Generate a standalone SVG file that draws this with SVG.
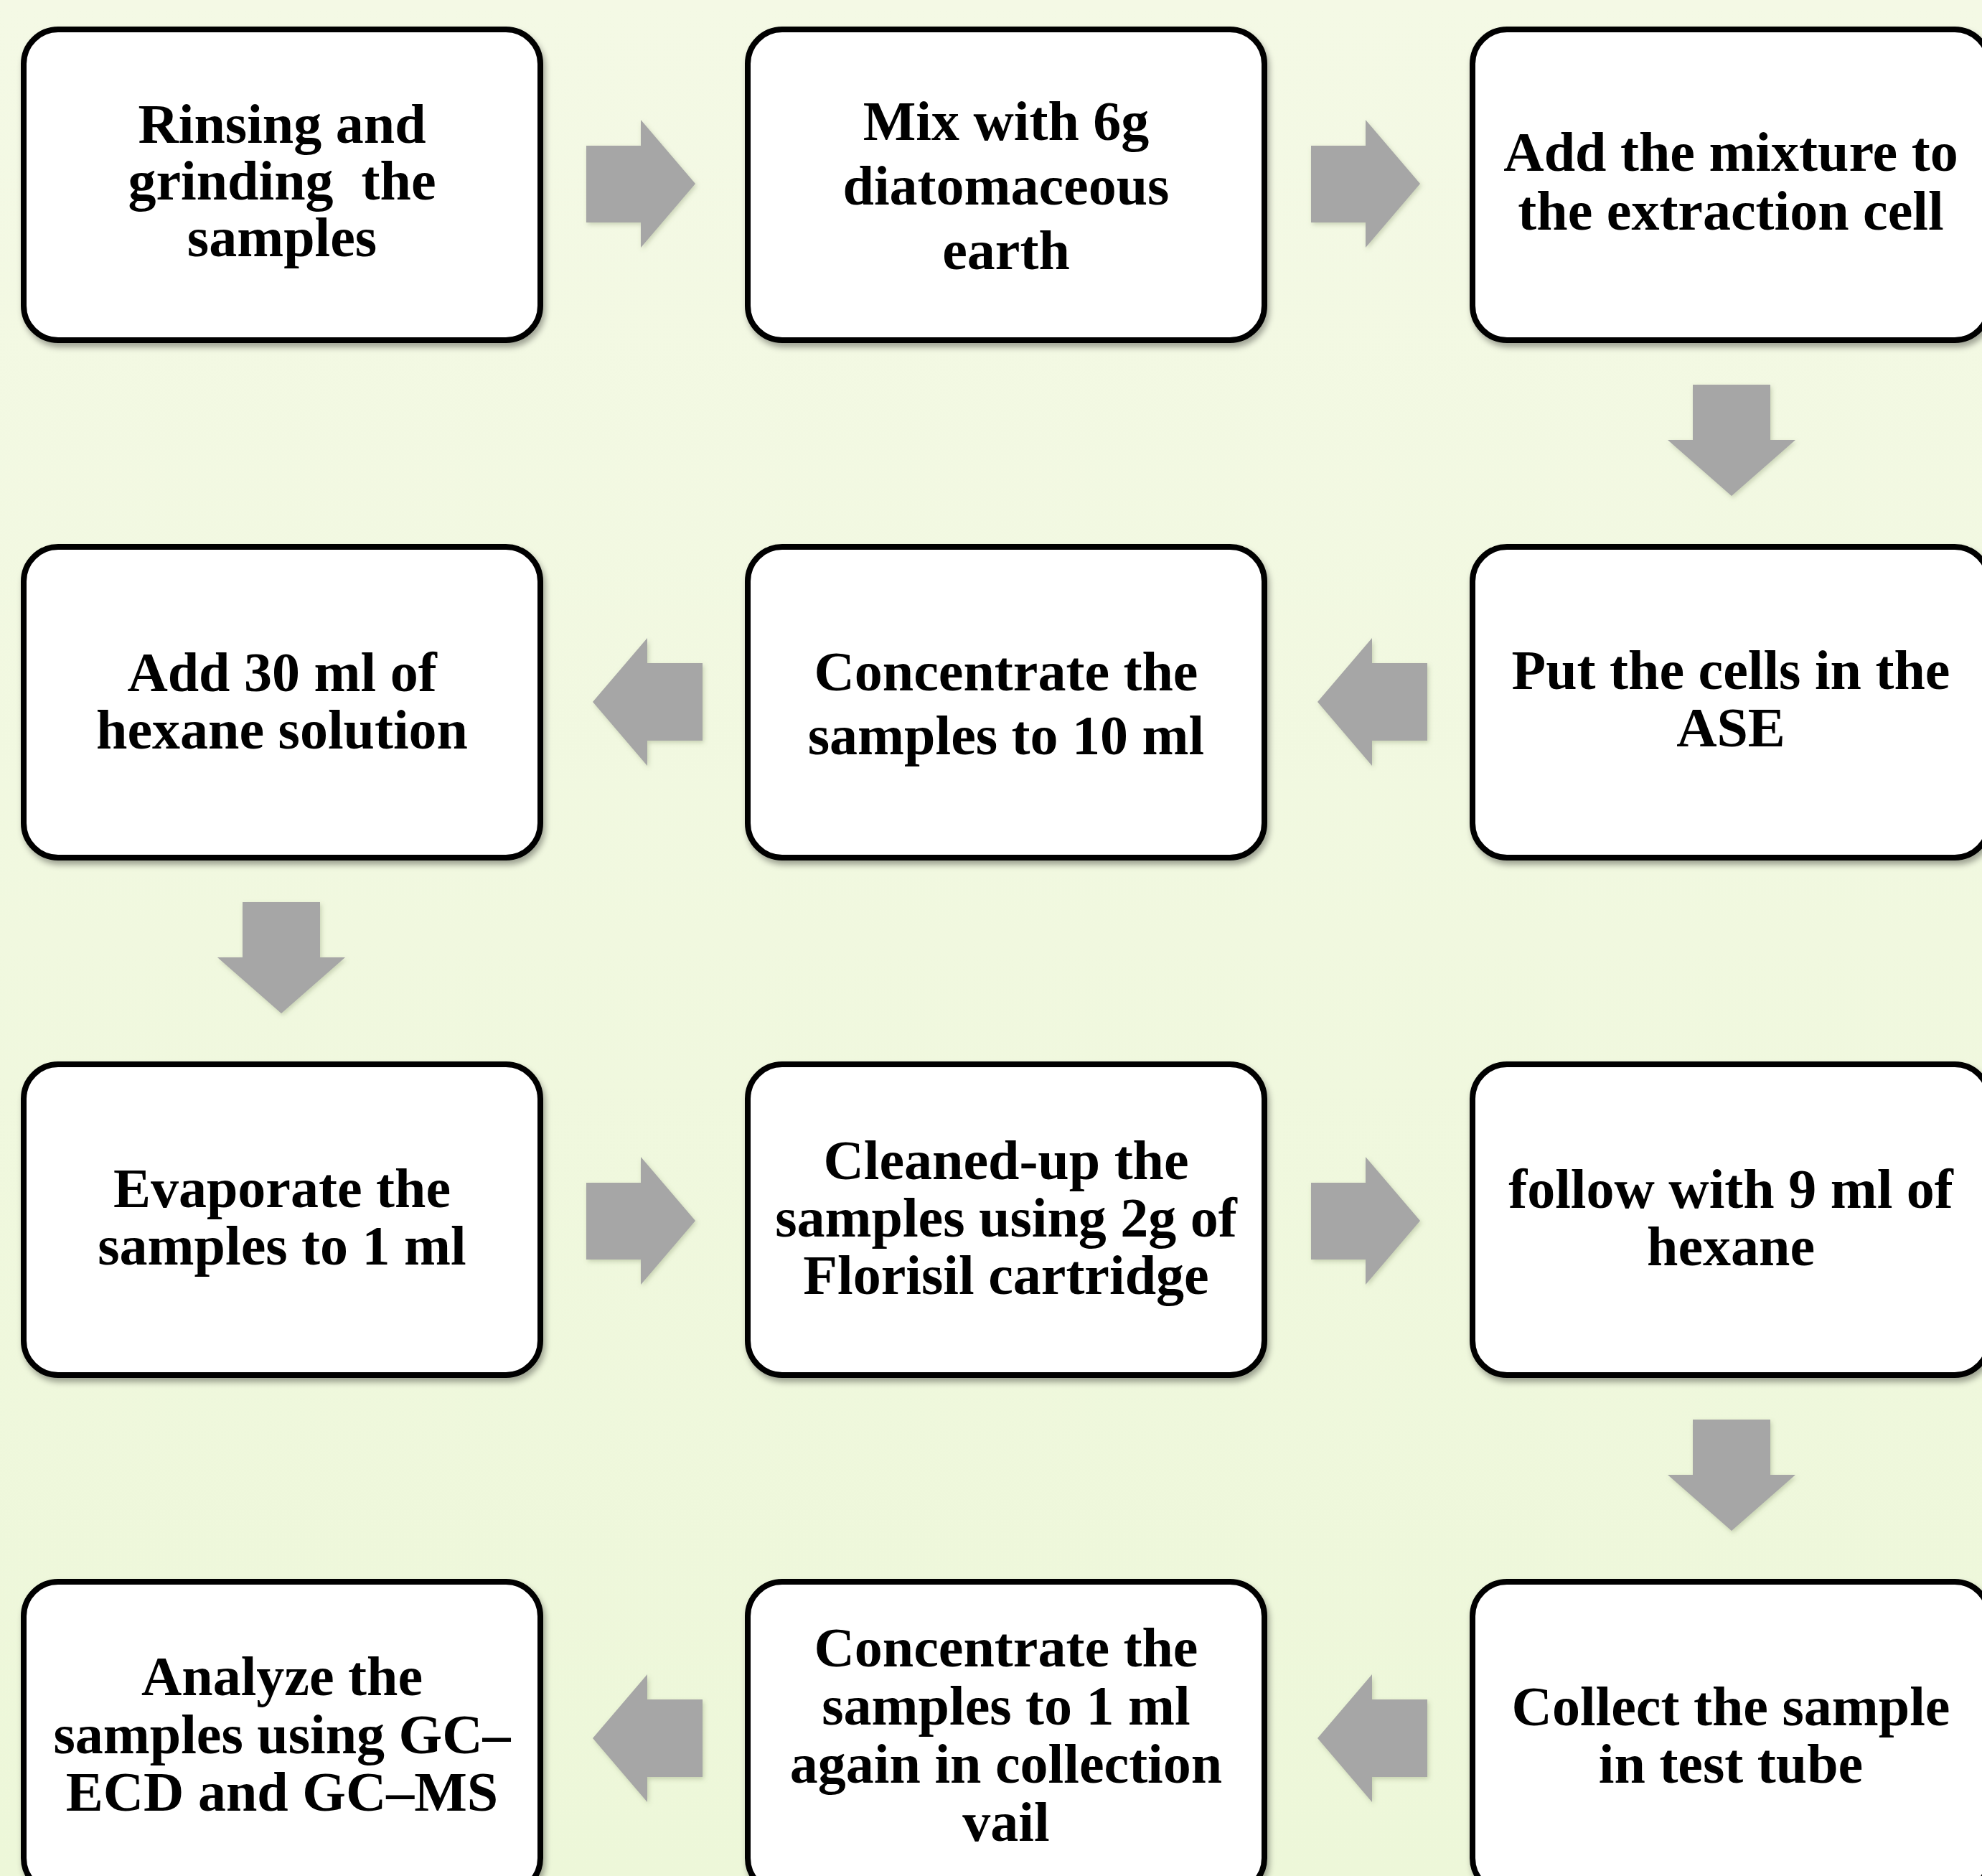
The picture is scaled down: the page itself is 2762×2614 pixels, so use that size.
<svg xmlns="http://www.w3.org/2000/svg" width="2762" height="2614" viewBox="0 0 2762 2614">
  <defs>
    <linearGradient id="bg" x1="0" y1="0" x2="0" y2="1">
      <stop offset="0" stop-color="#F4F9E5"/>
      <stop offset="1" stop-color="#EDF7D9"/>
    </linearGradient>
    <filter id="boxShadow" x="-5%" y="-5%" width="112%" height="115%">
      <feDropShadow dx="3" dy="6" stdDeviation="4" flood-color="#000" flood-opacity="0.35"/>
    </filter>
    <filter id="arrowShadow" x="-10%" y="-10%" width="125%" height="125%">
      <feDropShadow dx="2" dy="3" stdDeviation="3" flood-color="#6a7a50" flood-opacity="0.3"/>
    </filter>
  </defs>
  <style>
    .box { fill: #FFFFFF; stroke: #000000; stroke-width: 8; filter: url(#boxShadow); }
    .arrow { fill: #A6A6A6; stroke: none; filter: url(#arrowShadow); }
    .label { font-family: "Liberation Serif", "Times New Roman", serif; font-weight: bold; font-size: 78px; fill: #000000; text-anchor: middle; }
  </style>

  <rect x="0" y="0" width="2762" height="2614" fill="url(#bg)"/>

  <g id="connectors">
    <!-- row 1 right arrows -->
    <path class="arrow" d="M817,203 L893,203 L893,167 L969,256 L893,345 L893,310 L817,310 Z"/>
    <path class="arrow" d="M1827,203 L1903,203 L1903,167 L1979,256 L1903,345 L1903,310 L1827,310 Z"/>
    <!-- down arrow col3 row1->row2 -->
    <path class="arrow" d="M2359,536 L2467,536 L2467,613 L2502,613 L2413,691 L2324,613 L2359,613 Z"/>
    <!-- row 2 left arrows -->
    <path class="arrow" d="M1836,978 L1912,889 L1912,924 L1989,924 L1989,1032 L1912,1032 L1912,1067 Z"/>
    <path class="arrow" d="M826,978 L902,889 L902,924 L979,924 L979,1032 L902,1032 L902,1067 Z"/>
    <!-- down arrow col1 row2->row3 -->
    <path class="arrow" d="M338,1257 L446,1257 L446,1334 L481,1334 L392,1412 L303,1334 L338,1334 Z"/>
    <!-- row 3 right arrows -->
    <path class="arrow" d="M817,1648 L893,1648 L893,1612 L969,1701 L893,1790 L893,1755 L817,1755 Z"/>
    <path class="arrow" d="M1827,1648 L1903,1648 L1903,1612 L1979,1701 L1903,1790 L1903,1755 L1827,1755 Z"/>
    <!-- down arrow col3 row3->row4 -->
    <path class="arrow" d="M2359,1978 L2467,1978 L2467,2055 L2502,2055 L2413,2133 L2324,2055 L2359,2055 Z"/>
    <!-- row 4 left arrows -->
    <path class="arrow" d="M1836,2422 L1912,2333 L1912,2368 L1989,2368 L1989,2476 L1912,2476 L1912,2511 Z"/>
    <path class="arrow" d="M826,2422 L902,2333 L902,2368 L979,2368 L979,2476 L902,2476 L902,2511 Z"/>
  </g>

  <g id="node-rinsing">
    <rect class="box" x="33" y="41" width="720" height="433" rx="48" ry="48"/>
    <text class="label" x="393" y="199">Rinsing and</text>
    <text class="label" x="393" y="278" xml:space="preserve">grinding  the</text>
    <text class="label" x="393" y="357">samples</text>
  </g>

  <g id="node-mix">
    <rect class="box" x="1042" y="41" width="720" height="433" rx="48" ry="48"/>
    <text class="label" x="1402" y="195">Mix with 6g</text>
    <text class="label" x="1402" y="285">diatomaceous</text>
    <text class="label" x="1402" y="375">earth</text>
  </g>

  <g id="node-add-mixture">
    <rect class="box" x="2052" y="41" width="720" height="433" rx="48" ry="48"/>
    <text class="label" x="2412" y="238">Add the mixture to</text>
    <text class="label" x="2412" y="320">the extraction cell</text>
  </g>

  <g id="node-put-cells">
    <rect class="box" x="2052" y="762" width="720" height="433" rx="48" ry="48"/>
    <text class="label" x="2412" y="960">Put the cells in the</text>
    <text class="label" x="2412" y="1040">ASE</text>
  </g>

  <g id="node-concentrate-10">
    <rect class="box" x="1042" y="762" width="720" height="433" rx="48" ry="48"/>
    <text class="label" x="1402" y="962">Concentrate the</text>
    <text class="label" x="1402" y="1051">samples to 10 ml</text>
  </g>

  <g id="node-add-hexane">
    <rect class="box" x="33" y="762" width="720" height="433" rx="48" ry="48"/>
    <text class="label" x="393" y="963">Add 30 ml of</text>
    <text class="label" x="393" y="1043">hexane solution</text>
  </g>

  <g id="node-evaporate">
    <rect class="box" x="33" y="1483" width="720" height="433" rx="48" ry="48"/>
    <text class="label" x="393" y="1682">Evaporate the</text>
    <text class="label" x="393" y="1762">samples to 1 ml</text>
  </g>

  <g id="node-cleanup">
    <rect class="box" x="1042" y="1483" width="720" height="433" rx="48" ry="48"/>
    <text class="label" x="1402" y="1643">Cleaned-up the</text>
    <text class="label" x="1402" y="1723">samples using 2g of</text>
    <text class="label" x="1402" y="1803">Florisil cartridge</text>
  </g>

  <g id="node-follow-hexane">
    <rect class="box" x="2052" y="1483" width="720" height="433" rx="48" ry="48"/>
    <text class="label" x="2412" y="1683">follow with 9 ml of</text>
    <text class="label" x="2412" y="1763">hexane</text>
  </g>

  <g id="node-collect">
    <rect class="box" x="2052" y="2204" width="720" height="433" rx="48" ry="48"/>
    <text class="label" x="2412" y="2404">Collect the sample</text>
    <text class="label" x="2412" y="2484">in test tube</text>
  </g>

  <g id="node-concentrate-1">
    <rect class="box" x="1042" y="2204" width="720" height="433" rx="48" ry="48"/>
    <text class="label" x="1402" y="2322">Concentrate the</text>
    <text class="label" x="1402" y="2403">samples to 1 ml</text>
    <text class="label" x="1402" y="2484">again in collection</text>
    <text class="label" x="1402" y="2565">vail</text>
  </g>

  <g id="node-analyze">
    <rect class="box" x="33" y="2204" width="720" height="433" rx="48" ry="48"/>
    <text class="label" x="393" y="2362">Analyze the</text>
    <text class="label" x="393" y="2443">samples using GC–</text>
    <text class="label" x="393" y="2523">ECD and GC–MS</text>
  </g>
</svg>
